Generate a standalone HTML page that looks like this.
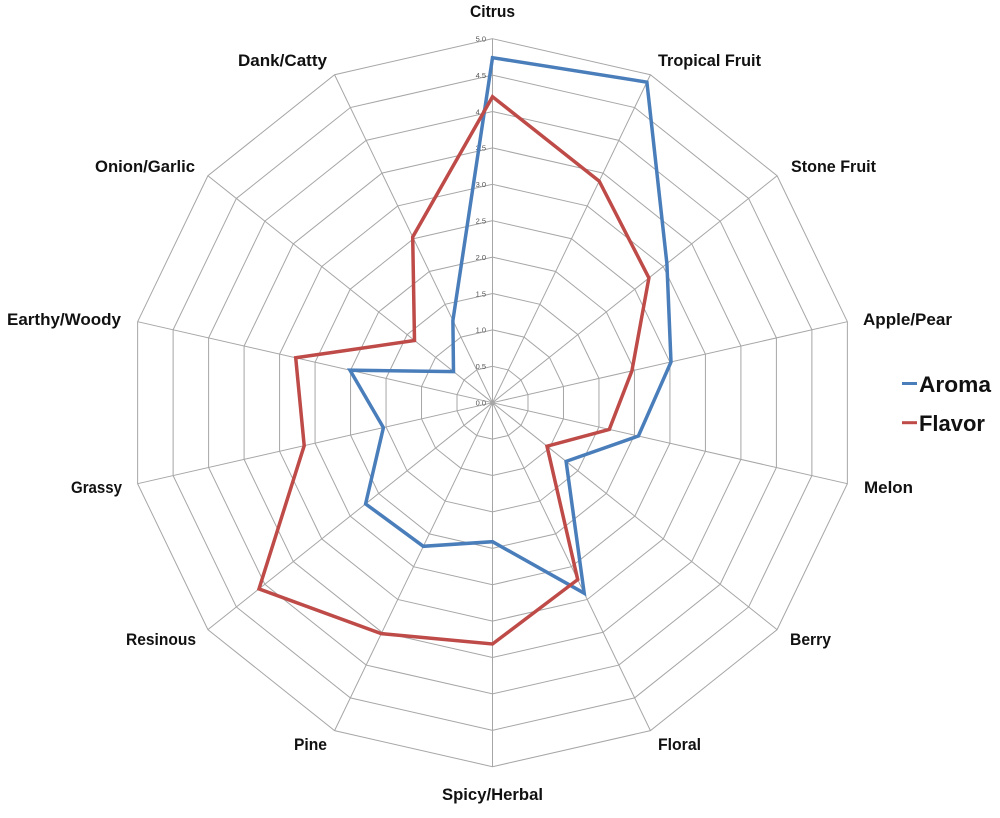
<!DOCTYPE html>
<html>
<head>
<meta charset="utf-8">
<style>
  html,body{margin:0;padding:0;background:#fff;}
  svg{display:block;}
  .lab{font-family:"Liberation Sans",Arial,sans-serif;font-weight:bold;font-size:17px;fill:#111;}
  .leg{font-family:"Liberation Sans",Arial,sans-serif;font-weight:bold;font-size:22px;fill:#111;}
  .tick{font-family:"Liberation Sans",Arial,sans-serif;font-size:7.5px;fill:#555;}
</style>
</head>
<body>
<svg width="1000" height="818" viewBox="0 0 1000 818" xmlns="http://www.w3.org/2000/svg">
  <rect width="1000" height="818" fill="#fff"/>
  <g transform="translate(492.5,402.7)" fill="none" stroke="#a6a6a6" stroke-width="1">
    <g id="rings">
      <polygon id="p" vector-effect="non-scaling-stroke" points="0,-364 157.93,-327.95 284.59,-226.95 354.87,-81 354.87,81 284.59,226.95 157.93,327.95 0,364 -157.93,327.95 -284.59,226.95 -354.87,81 -354.87,-81 -284.59,-226.95 -157.93,-327.95"/>
      <polygon vector-effect="non-scaling-stroke" transform="scale(0.9)" points="0,-364 157.93,-327.95 284.59,-226.95 354.87,-81 354.87,81 284.59,226.95 157.93,327.95 0,364 -157.93,327.95 -284.59,226.95 -354.87,81 -354.87,-81 -284.59,-226.95 -157.93,-327.95"/>
      <polygon vector-effect="non-scaling-stroke" transform="scale(0.8)" points="0,-364 157.93,-327.95 284.59,-226.95 354.87,-81 354.87,81 284.59,226.95 157.93,327.95 0,364 -157.93,327.95 -284.59,226.95 -354.87,81 -354.87,-81 -284.59,-226.95 -157.93,-327.95"/>
      <polygon vector-effect="non-scaling-stroke" transform="scale(0.7)" points="0,-364 157.93,-327.95 284.59,-226.95 354.87,-81 354.87,81 284.59,226.95 157.93,327.95 0,364 -157.93,327.95 -284.59,226.95 -354.87,81 -354.87,-81 -284.59,-226.95 -157.93,-327.95"/>
      <polygon vector-effect="non-scaling-stroke" transform="scale(0.6)" points="0,-364 157.93,-327.95 284.59,-226.95 354.87,-81 354.87,81 284.59,226.95 157.93,327.95 0,364 -157.93,327.95 -284.59,226.95 -354.87,81 -354.87,-81 -284.59,-226.95 -157.93,-327.95"/>
      <polygon vector-effect="non-scaling-stroke" transform="scale(0.5)" points="0,-364 157.93,-327.95 284.59,-226.95 354.87,-81 354.87,81 284.59,226.95 157.93,327.95 0,364 -157.93,327.95 -284.59,226.95 -354.87,81 -354.87,-81 -284.59,-226.95 -157.93,-327.95"/>
      <polygon vector-effect="non-scaling-stroke" transform="scale(0.4)" points="0,-364 157.93,-327.95 284.59,-226.95 354.87,-81 354.87,81 284.59,226.95 157.93,327.95 0,364 -157.93,327.95 -284.59,226.95 -354.87,81 -354.87,-81 -284.59,-226.95 -157.93,-327.95"/>
      <polygon vector-effect="non-scaling-stroke" transform="scale(0.3)" points="0,-364 157.93,-327.95 284.59,-226.95 354.87,-81 354.87,81 284.59,226.95 157.93,327.95 0,364 -157.93,327.95 -284.59,226.95 -354.87,81 -354.87,-81 -284.59,-226.95 -157.93,-327.95"/>
      <polygon vector-effect="non-scaling-stroke" transform="scale(0.2)" points="0,-364 157.93,-327.95 284.59,-226.95 354.87,-81 354.87,81 284.59,226.95 157.93,327.95 0,364 -157.93,327.95 -284.59,226.95 -354.87,81 -354.87,-81 -284.59,-226.95 -157.93,-327.95"/>
      <polygon vector-effect="non-scaling-stroke" transform="scale(0.1)" points="0,-364 157.93,-327.95 284.59,-226.95 354.87,-81 354.87,81 284.59,226.95 157.93,327.95 0,364 -157.93,327.95 -284.59,226.95 -354.87,81 -354.87,-81 -284.59,-226.95 -157.93,-327.95"/>
    </g>
    <path d="M0,0L0,-364 M0,0L157.93,-327.95 M0,0L284.59,-226.95 M0,0L354.87,-81 M0,0L354.87,81 M0,0L284.59,226.95 M0,0L157.93,327.95 M0,0L0,364 M0,0L-157.93,327.95 M0,0L-284.59,226.95 M0,0L-354.87,81 M0,0L-354.87,-81 M0,0L-284.59,-226.95 M0,0L-157.93,-327.95"/>
  </g>

  <!-- tick labels -->
  <g class="tick" text-anchor="end">
    <text x="486" y="405.5">0.0</text>
    <text x="486" y="369.1">0.5</text>
    <text x="486" y="332.7">1.0</text>
    <text x="486" y="296.3">1.5</text>
    <text x="486" y="259.9">2.0</text>
    <text x="486" y="223.5">2.5</text>
    <text x="486" y="187.1">3.0</text>
    <text x="486" y="150.7">3.5</text>
    <text x="486" y="114.3">4.0</text>
    <text x="486" y="77.9">4.5</text>
    <text x="486" y="41.5">5.0</text>
  </g>

  <!-- series -->
  <polygon fill="none" stroke="#4a7ebb" stroke-width="3.5" stroke-linejoin="miter"
    points="492.5,57.7 646.9,82.1 666.9,263.6 671.0,362.0 638.4,436.0 566.1,461.4 584.2,593.2 492.5,541.7 423.3,546.3 365.6,503.9 383.4,427.6 350.0,370.2 453.5,371.6 452.9,320.5"/>
  <polygon fill="none" stroke="#be4b48" stroke-width="3.5" stroke-linejoin="miter"
    points="492.5,96.7 599.2,181.1 648.9,277.9 631.9,370.9 609.3,429.4 547.0,446.2 577.7,579.6 492.5,644.0 381.3,633.6 259.0,588.9 304.2,445.7 295.7,357.8 414.5,340.5 412.7,237.0"/>

  <!-- category labels -->
  <g class="lab">
    <text x="470" y="17" textLength="45" lengthAdjust="spacingAndGlyphs">Citrus</text>
    <text x="658" y="66" textLength="103" lengthAdjust="spacingAndGlyphs">Tropical Fruit</text>
    <text x="791" y="172" textLength="85" lengthAdjust="spacingAndGlyphs">Stone Fruit</text>
    <text x="863" y="325" textLength="89" lengthAdjust="spacingAndGlyphs">Apple/Pear</text>
    <text x="864" y="493" textLength="49" lengthAdjust="spacingAndGlyphs">Melon</text>
    <text x="790" y="645" textLength="41" lengthAdjust="spacingAndGlyphs">Berry</text>
    <text x="658" y="750" textLength="43" lengthAdjust="spacingAndGlyphs">Floral</text>
    <text x="442" y="800" textLength="101" lengthAdjust="spacingAndGlyphs">Spicy/Herbal</text>
    <text x="294" y="750" textLength="33" lengthAdjust="spacingAndGlyphs">Pine</text>
    <text x="126" y="645" textLength="70" lengthAdjust="spacingAndGlyphs">Resinous</text>
    <text x="71" y="493" textLength="51" lengthAdjust="spacingAndGlyphs">Grassy</text>
    <text x="7" y="325" textLength="114" lengthAdjust="spacingAndGlyphs">Earthy/Woody</text>
    <text x="95" y="172" textLength="100" lengthAdjust="spacingAndGlyphs">Onion/Garlic</text>
    <text x="238" y="66" textLength="89" lengthAdjust="spacingAndGlyphs">Dank/Catty</text>
  </g>

  <!-- legend -->
  <line x1="902" y1="383.5" x2="917" y2="383.5" stroke="#4a7ebb" stroke-width="3"/>
  <line x1="902" y1="422.7" x2="917" y2="422.7" stroke="#be4b48" stroke-width="3"/>
  <g class="leg">
    <text x="919" y="392" textLength="72" lengthAdjust="spacingAndGlyphs">Aroma</text>
    <text x="919" y="431" textLength="66" lengthAdjust="spacingAndGlyphs">Flavor</text>
  </g>
</svg>
</body>
</html>
